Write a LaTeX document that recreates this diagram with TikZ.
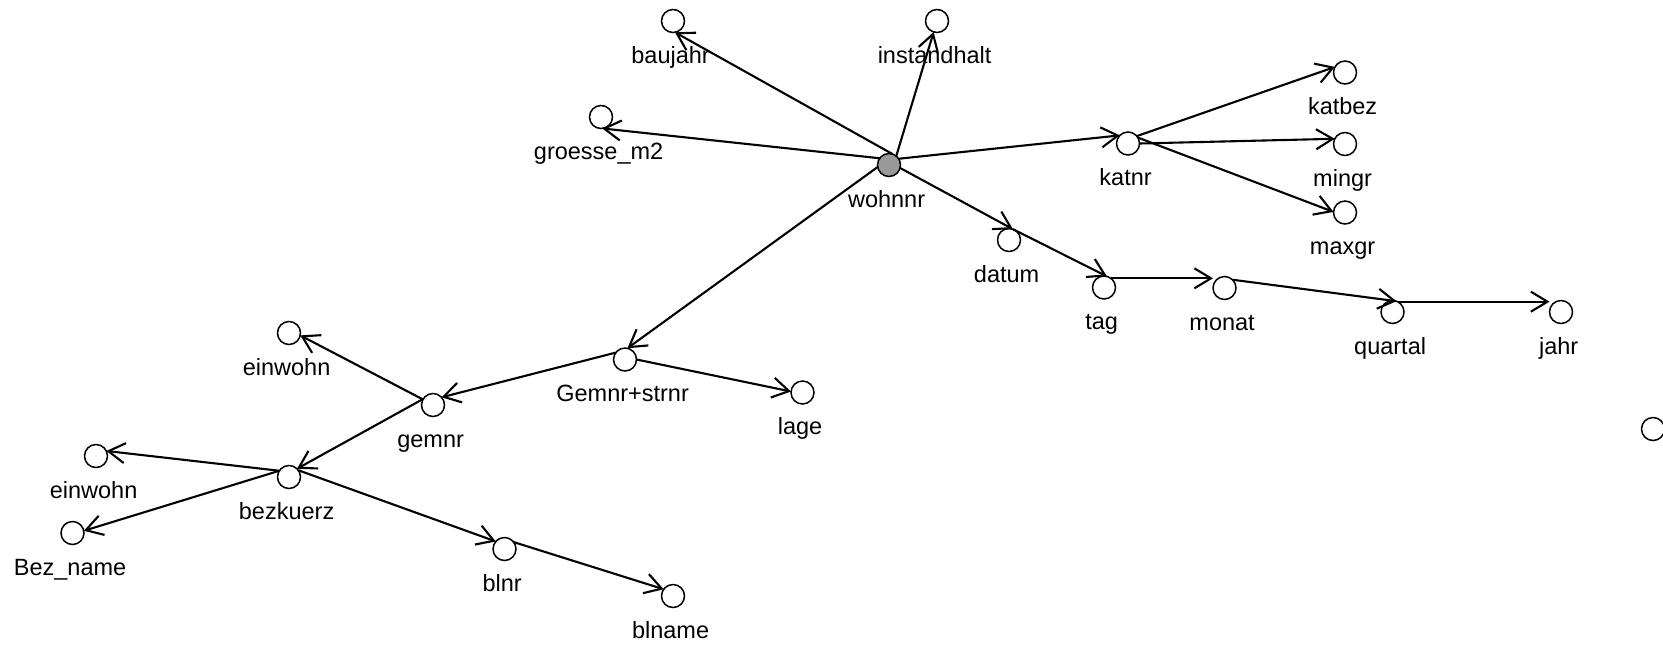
\documentclass[tikz,border=0pt]{standalone}
\usepackage{fontspec}
\setmainfont{Liberation Sans}
\usetikzlibrary{arrows.meta}
\definecolor{keyfill}{RGB}{153,153,153}
\tikzset{
  attr/.style={circle, draw, line width=0.75pt, fill=white, minimum size=11.5pt,
    inner sep=0pt, outer sep=0pt},
  keyattr/.style={attr, fill=keyfill},
  lab/.style={anchor=base, xshift=-1.2pt, yshift=-15.3pt, inner sep=0pt,
    font=\fontsize{11.75pt}{14pt}\selectfont},
  dep/.style={line width=1.05pt, -{Straight Barb[length=8.3pt,width=10pt,line join=miter]}}
}
\begin{document}
\begin{tikzpicture}[x=0.5pt,y=-0.5pt]
\useasboundingbox (0,0) rectangle (1663,644);

% attributes
\node[keyattr, label={[lab]below:wohnnr}] (wohnnr) at (889,165) {};
\node[attr, label={[lab]below:baujahr}] (baujahr) at (673,21) {};
\node[attr, label={[lab]below:instandhalt}] (instandhalt) at (937,21) {};
\node[attr, label={[lab]below:groesse\_m2}] (groesse) at (601,117) {};
\node[attr, label={[lab]below:katnr}] (katnr) at (1128,143.5) {};
\node[attr, label={[lab]below:katbez}] (katbez) at (1345,72.5) {};
\node[attr, label={[lab]below:mingr}] (mingr) at (1345,144) {};
\node[attr, label={[lab]below:maxgr}] (maxgr) at (1345,212.5) {};
\node[attr, label={[lab]below:datum}] (datum) at (1009,240) {};
\node[attr, label={[lab]below:tag}] (tag) at (1104,287.5) {};
\node[attr, label={[lab]below:monat}] (monat) at (1224.5,288) {};
\node[attr, label={[lab]below:quartal}] (quartal) at (1392.5,312) {};
\node[attr, label={[lab]below:jahr}] (jahr) at (1561,312) {};
\node[attr, label={[lab]below:Gemnr+strnr}] (gemstr) at (625,359.5) {};
\node[attr, label={[lab]below:lage}] (lage) at (802.5,392.5) {};
\node[attr, label={[lab]below:gemnr}] (gemnr) at (433,405) {};
\node[attr, label={[lab]below:einwohn}] (einwohnA) at (289,333) {};
\node[attr, label={[lab]below:bezkuerz}] (bezkuerz) at (289,477) {};
\node[attr, label={[lab]below:einwohn}] (einwohnB) at (96,456) {};
\node[attr, label={[lab]below:Bez\_name}] (bezname) at (72.5,533) {};
\node[attr, label={[lab]below:blnr}] (blnr) at (504.5,549) {};
\node[attr, label={[lab]below:blname}] (blname) at (673,596) {};
\node[attr] (lone) at (1653,429) {};

% dependencies of the key
\draw[dep] (wohnnr.72) -- (baujahr.-80);
\draw[dep] (wohnnr.51) -- (instandhalt.-107);
\draw[dep] (wohnnr.144) -- (groesse.-84);
\draw[dep] (wohnnr.33) -- (katnr.135);
\draw[dep] (wohnnr.190) -- (gemstr.78);
\draw[dep] (wohnnr.-15) -- (datum.70);

% category
\draw[dep] (katnr.40) -- (katbez.151);
\draw[dep] (katnr.0) -- (mingr.153);
\draw[dep] (katnr.31) -- (maxgr.177);

% date hierarchy
\draw[dep] (datum.70) -- (tag.75);
\draw[dep] (tag.53) -- (monat.west |- tag.53);
\draw[dep] (monat.46) -- (quartal.70);
\draw[dep] (quartal.64) -- (jahr.west |- quartal.64);

% location hierarchy
\draw[dep] (gemstr.143) -- (gemnr.42);
\draw[dep] (gemstr.0) -- (lage.175);
\draw[dep] (gemnr.151) -- (einwohnA.-12);
\draw[dep] (gemnr.148) -- (bezkuerz.46);
\draw[dep] (bezkuerz.147) -- (einwohnB.26);
\draw[dep] (bezkuerz.147) -- (bezname.11);
\draw[dep] (bezkuerz.36) -- (blnr.139);
\draw[dep] (blnr.37) -- (blname.144);
\end{tikzpicture}
\end{document}
